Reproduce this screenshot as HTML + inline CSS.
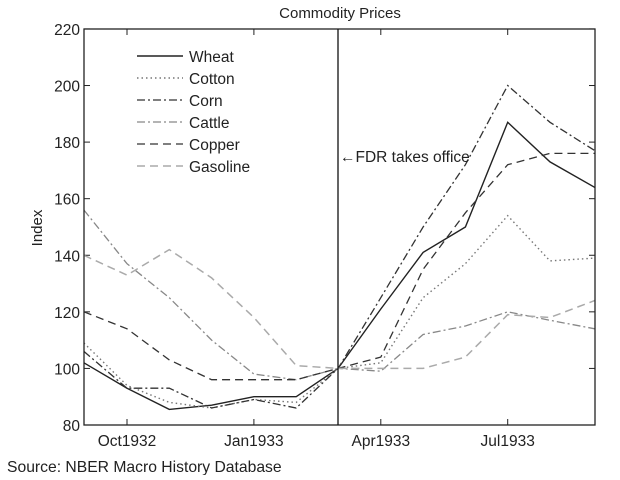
<!DOCTYPE html>
<html><head><meta charset="utf-8"><style>
body{margin:0;background:#fff;}
svg text{font-family:"Liberation Sans",sans-serif;fill:#222;}
</style></head><body>
<svg width="620" height="475" viewBox="0 0 620 475">
<text x="340" y="18" font-size="15" text-anchor="middle">Commodity Prices</text>
<g id="axes"></g>
<clipPath id="clip"><rect x="84" y="29" width="511" height="396"/></clipPath>
<g id="series" clip-path="url(#clip)"></g>
<rect x="84" y="29" width="511" height="396" fill="none" stroke="#222" stroke-width="1.3"/>
<line x1="338" y1="29" x2="338" y2="425" stroke="#111" stroke-width="1.3"/>
<text x="340" y="162" font-size="15.5">←FDR takes office</text>
<text transform="translate(42,228) rotate(-90)" font-size="15" text-anchor="middle">Index</text>
<text x="7" y="472" font-size="15.7">Source: NBER Macro History Database</text>
<g id="legend"></g>
</svg>
<script>
const monthIdx=[-1.02,0,1,2,3,4,4.99,6,7,8,9,10,11.06];
const wheat=[102,93,85.5,87,90,90,100,121,141,150,187,173,164];
const cotton=[109,94,88,86,89,88,100,102,125,137,154,138,139];
const corn=[106,93,93,86,89,86,100,125,150,172,200,187,177];
const cattle=[156,137,125,110,98,96,100,99,112,115,120,117,114];
const copper=[120,114,103,96,96,96,100,104,135,155,172,176,176];
const gasoline=[140,133,142,132,118,101,100,100,100,104,119,118,124];
const yTicks=[80,100,120,140,160,180,200,220];
const xTickIdx=[0,3,6,9];
const xTickLabels=["Oct1932","Jan1933","Apr1933","Jul1933"];
const seriesNames=["Wheat","Cotton","Corn","Cattle","Copper","Gasoline"];
const NS="http://www.w3.org/2000/svg";
const X=i=>127+i*42.3, Y=v=>425-(v-80)*2.829;
const styles=[
 {c:"#222",d:"",w:1.4},{c:"#777",d:"1.5 3",w:1.4},{c:"#333",d:"8 3 2 3",w:1.3},
 {c:"#888",d:"8 3 2 3",w:1.3},{c:"#333",d:"8 5",w:1.3},{c:"#aaa",d:"8 5",w:1.5}];
const data=[wheat,cotton,corn,cattle,copper,gasoline];
function mk(t,a,p){const e=document.createElementNS(NS,t);for(const k in a)e.setAttribute(k,a[k]);p.appendChild(e);return e;}
const ax=document.getElementById('axes');
yTicks.forEach(v=>{
 const l=mk('line',{x1:84,x2:90,y1:Y(v),y2:Y(v),stroke:'#222'},ax);
 
 
 const r=mk('line',{x1:589,x2:595,y1:Y(v),y2:Y(v),stroke:'#222'},ax);
 
 
 const t=mk('text',{x:80,y:Y(v)+6,'font-size':15.5,'text-anchor':'end'},ax);t.textContent=v;
 
 
});
xTickIdx.forEach((i,k)=>{
 const l=mk('line',{x1:X(i),x2:X(i),y1:419,y2:425,stroke:'#222'},ax);
 
 
 const u=mk('line',{x1:X(i),x2:X(i),y1:29,y2:35,stroke:'#222'},ax);
 
 
 const t=mk('text',{x:X(i),y:446,'font-size':15.5,'text-anchor':'middle'},ax);t.textContent=xTickLabels[k];
 
 
});
const sg=document.getElementById('series'),lg=document.getElementById('legend');
data.forEach((arr,s)=>{
 const st=styles[s];
 const p=mk('path',{d:arr.map((v,i)=>(i?'L':'M')+X(monthIdx[i]).toFixed(1)+','+Y(v).toFixed(1)).join(''),fill:'none',stroke:st.c,'stroke-width':st.w,'stroke-dasharray':st.d},sg);
 
 
 const y=56+s*22;
 const l=mk('line',{x1:137,x2:183,y1:y,y2:y,stroke:st.c,'stroke-width':st.w,'stroke-dasharray':st.d},lg);
 
 
 const t=mk('text',{x:189,y:y+6,'font-size':15.5},lg);t.textContent=seriesNames[s];
 
 
});
</script>
</body></html>
